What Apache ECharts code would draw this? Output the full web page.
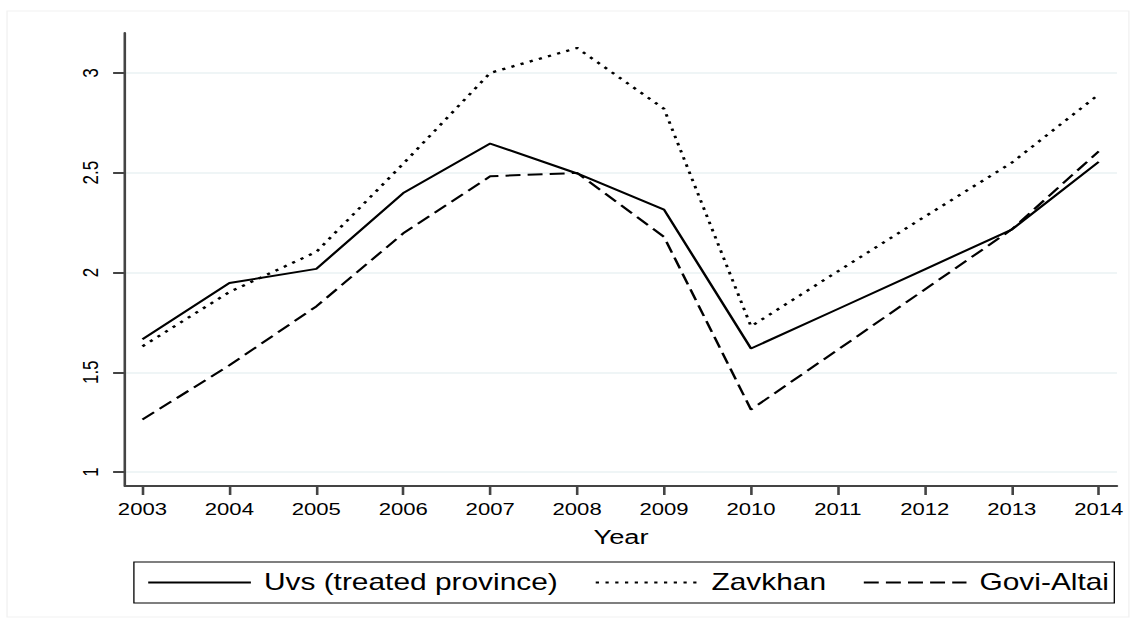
<!DOCTYPE html>
<html>
<head>
<meta charset="utf-8">
<title>Uvs vs Zavkhan vs Govi-Altai</title>
<script src="https://cdn.jsdelivr.net/npm/echarts@6/dist/echarts.min.js"></script>
<style>
  html, body { margin: 0; padding: 0; background: #fff; overflow: hidden; }
  /* the reference is a stretched Stata graph: draw narrow, then widen */
  #chart {
    width: 874px;
    height: 624px;
    transform: scaleX(1.3);
    transform-origin: 0 0;
  }
</style>
</head>
<body>
<div id="chart"></div>
<script>
// data
const years = [2003, 2004, 2005, 2006, 2007, 2008, 2009, 2010, 2011, 2012, 2013, 2014];
const uvs = [1.665, 1.947, 2.018, 2.398, 2.646, 2.496, 2.315, 1.619, 1.817, 2.016, 2.215, 2.554];
const zavkhan = [1.63, 1.902, 2.103, 2.545, 3.0, 3.125, 2.82, 1.73, 2.006, 2.28, 2.55, 2.892];
const goviAltai = [1.263, 1.535, 1.83, 2.196, 2.482, 2.499, 2.178, 1.313, 1.613, 1.915, 2.216, 2.607];
const yTicks = [1, 1.5, 2, 2.5, 3];
const seriesNames = ["Uvs (treated province)", "Zavkhan", "Govi-Altai"];

const pairs = (vals) => years.map((y, i) => [y, vals[i]]);

const chart = echarts.init(document.getElementById("chart"), null, { renderer: "svg" });

const axisColor = "#444";
const font = "'Liberation Sans', Arial, sans-serif";

function lineSeries(name, vals, dash, width) {
  return {
    name: name,
    type: "line",
    data: pairs(vals),
    symbol: "none",
    animation: false,
    lineStyle: { color: "#000", width: width, type: dash, cap: "butt" },
    itemStyle: { color: "#000" },
  };
}

chart.setOption({
  backgroundColor: "#fff",
  animation: false,
  textStyle: { fontFamily: font },
  grid: { left: 96.2, right: 14.8, top: 33, bottom: 138 },
  graphic: [
    {
      // faint outer frame
      type: "rect",
      shape: { x: 5.4, y: 11, width: 863, height: 606 },
      style: { fill: "none", stroke: "#f1f1f1", lineWidth: 1 },
      silent: true,
    },
  ],
  xAxis: {
    type: "value",
    min: 2002.8,
    max: 2014.21,
    name: "Year",
    nameLocation: "middle",
    nameGap: 40,
    nameTextStyle: { fontSize: 21, color: "#000", fontFamily: font },
    axisLine: { show: true, onZero: false, lineStyle: { color: axisColor, width: 2 } },
    axisTick: { show: true, length: 9, customValues: years, lineStyle: { color: axisColor, width: 2 } },
    axisLabel: {
      customValues: years,
      formatter: (v) => String(v),
      fontSize: 17,
      color: "#000",
      margin: 14,
      fontFamily: font,
    },
    splitLine: { show: false },
  },
  yAxis: {
    type: "value",
    min: 0.93,
    max: 3.2,
    axisLine: { show: true, onZero: false, lineStyle: { color: axisColor, width: 2 } },
    axisTick: { show: true, length: 9.2, customValues: yTicks, lineStyle: { color: axisColor, width: 2 } },
    axisLabel: {
      customValues: yTicks,
      formatter: (v) => String(v),
      rotate: 90,
      fontSize: 17,
      color: "#000",
      margin: 18,
      fontFamily: font,
    },
    splitLine: { show: true, lineStyle: { color: "#eaf2f3", width: 1.5 } },
  },
  legend: {
    left: 103,
    top: 562,
    orient: "horizontal",
    padding: [9, 4, 9, 10],
    borderColor: "#000",
    borderWidth: 1,
    itemWidth: 79,
    itemHeight: 14,
    itemGap: 28,
    data: seriesNames,
    itemStyle: { opacity: 0 }, // hide the circle, keep only the line key
    textStyle: { fontSize: 23, color: "#000", fontFamily: font, padding: [0, 0, 0, 5] },
  },
  series: [
    lineSeries(seriesNames[0], uvs, "solid", 2),
    lineSeries(seriesNames[1], zavkhan, [2.5, 5], 2.3),
    lineSeries(seriesNames[2], goviAltai, [11.5, 5.5], 2),
  ],
});
</script>
</body>
</html>
